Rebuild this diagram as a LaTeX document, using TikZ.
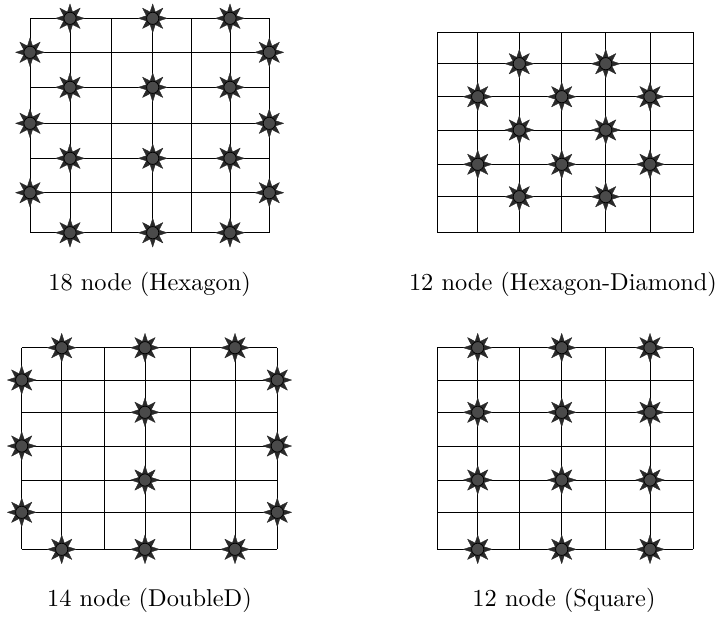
\documentclass[tikz,border=0pt]{standalone}
\definecolor{bodygray}{HTML}{4A4A4A}
\definecolor{spikegray}{HTML}{2A2A2A}
\tikzset{
  gridline/.style={draw=black, line width=0.4pt},
  sensorbody/.style={circle, fill=bodygray, draw=black, line width=0.3pt, minimum size=5pt, inner sep=0pt},
  spike/.style={fill=spikegray, draw=spikegray, line width=0.15pt, line join=round},
  caption/.style={anchor=base, inner sep=0pt},
  pics/sensor/.style={code={
    \foreach \a in {0,45,...,315}{
      \path[spike, rotate=\a] (1.7pt,-1.35pt) -- (5.9pt,0pt) -- (1.7pt,1.35pt) -- cycle;
    }
    \node[sensorbody] (-c) {};
  }}
}
\begin{document}
\begin{tikzpicture}[x=0.41pt, y=-0.41pt]
\useasboundingbox (0,0) rectangle (720,617);

% ---------- Panel 1: 18 node (Hexagon)
\foreach \x in {30,70,111,152.7,191.7,230,269.3}
  \draw[gridline] (\x,18.3) -- (\x,232.7);
\foreach \y in {18.3,52.3,87.3,123.3,158.3,192.7,232.7}
  \draw[gridline] (30,\y) -- (269.3,\y);
\pic (a1) at (70,18.3) {sensor};
\pic (a2) at (152.7,18.3) {sensor};
\pic (a3) at (230,18.3) {sensor};
\pic (a4) at (30,52.3) {sensor};
\pic (a5) at (269.3,52.3) {sensor};
\pic (a6) at (70,87.3) {sensor};
\pic (a7) at (152.7,87.3) {sensor};
\pic (a8) at (230,87.3) {sensor};
\pic (a9) at (30,123.3) {sensor};
\pic (a10) at (269.3,123.3) {sensor};
\pic (a11) at (70,158.3) {sensor};
\pic (a12) at (152.7,158.3) {sensor};
\pic (a13) at (230,158.3) {sensor};
\pic (a14) at (30,192.7) {sensor};
\pic (a15) at (269.3,192.7) {sensor};
\pic (a16) at (70,232.7) {sensor};
\pic (a17) at (152.7,232.7) {sensor};
\pic (a18) at (230,232.7) {sensor};
\node[caption] (capA) at (149.6,290) {18 node (Hexagon)};

% ---------- Panel 2: 12 node (Hexagon-Diamond)
\foreach \x in {437.3,477.7,519.3,561.7,605.7,650,693}
  \draw[gridline] (\x,32.3) -- (\x,232.7);
\foreach \y in {32.3,63.7,96.7,130,164.3,196.7,232.7}
  \draw[gridline] (437.3,\y) -- (693,\y);
\pic (b1) at (519.3,63.7) {sensor};
\pic (b2) at (605.7,63.7) {sensor};
\pic (b3) at (477.7,96.7) {sensor};
\pic (b4) at (561.7,96.7) {sensor};
\pic (b5) at (650,96.7) {sensor};
\pic (b6) at (519.3,130) {sensor};
\pic (b7) at (605.7,130) {sensor};
\pic (b8) at (477.7,164.3) {sensor};
\pic (b9) at (561.7,164.3) {sensor};
\pic (b10) at (650,164.3) {sensor};
\pic (b11) at (519.3,196.7) {sensor};
\pic (b12) at (605.7,196.7) {sensor};
\node[caption] (capB) at (563,290) {12 node (Hexagon-Diamond)};

% ---------- Panel 3: 14 node (DoubleD)
\foreach \x in {21.7,61.7,104,145,190.7,235,277.3}
  \draw[gridline] (\x,347.7) -- (\x,549.3);
\foreach \y in {347.7,380,412.3,446,480,512.3,549.3}
  \draw[gridline] (21.7,\y) -- (277.3,\y);
\pic (c1) at (61.7,347.7) {sensor};
\pic (c2) at (145,347.7) {sensor};
\pic (c3) at (235,347.7) {sensor};
\pic (c4) at (21.7,380) {sensor};
\pic (c5) at (277.3,380) {sensor};
\pic (c6) at (145,412.3) {sensor};
\pic (c7) at (21.7,446) {sensor};
\pic (c8) at (277.3,446) {sensor};
\pic (c9) at (145,480) {sensor};
\pic (c10) at (21.7,512.3) {sensor};
\pic (c11) at (277.3,512.3) {sensor};
\pic (c12) at (61.7,549.3) {sensor};
\pic (c13) at (145,549.3) {sensor};
\pic (c14) at (235,549.3) {sensor};
\node[caption] (capC) at (149.5,606.5) {14 node (DoubleD)};

% ---------- Panel 4: 12 node (Square)
\foreach \x in {437.3,477.7,519.3,561.7,605.7,650,693.3}
  \draw[gridline] (\x,347.7) -- (\x,549.3);
\foreach \y in {347.7,380,412.3,446,480,512.3,549.3}
  \draw[gridline] (437.3,\y) -- (693.3,\y);
\pic (d1) at (477.7,347.7) {sensor};
\pic (d2) at (561.7,347.7) {sensor};
\pic (d3) at (650,347.7) {sensor};
\pic (d4) at (477.7,412.3) {sensor};
\pic (d5) at (561.7,412.3) {sensor};
\pic (d6) at (650,412.3) {sensor};
\pic (d7) at (477.7,480) {sensor};
\pic (d8) at (561.7,480) {sensor};
\pic (d9) at (650,480) {sensor};
\pic (d10) at (477.7,549.3) {sensor};
\pic (d11) at (561.7,549.3) {sensor};
\pic (d12) at (650,549.3) {sensor};
\node[caption] (capD) at (564,606.5) {12 node (Square)};
\end{tikzpicture}
\end{document}
